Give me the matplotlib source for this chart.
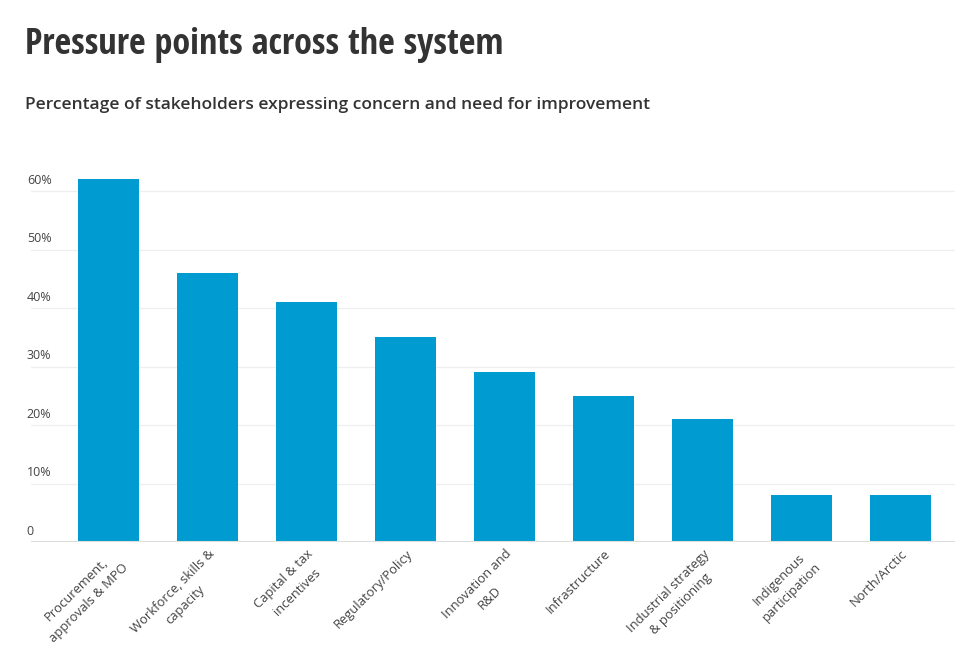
import matplotlib as mpl
import matplotlib.pyplot as plt
from matplotlib import font_manager
from matplotlib.transforms import ScaledTranslation

mpl.use('Agg')

categories = [
    'Procurement,\napprovals & MPO',
    'Workforce, skills &\ncapacity',
    'Capital & tax\nincentives',
    'Regulatory/Policy',
    'Innovation and\nR&D',
    'Infrastructure',
    'Industrial strategy\n& positioning',
    'Indigenous\nparticipation',
    'North/Arctic',
]
values = [62, 46, 41, 35, 29, 25, 21, 8, 8]
y_ticks = [0, 10, 20, 30, 40, 50, 60]
y_labels = ['0', '10%', '20%', '30%', '40%', '50%', '60%']

installed = {f.name for f in font_manager.fontManager.ttflist}
title_font = 'Open Sans'
for name in ['Open Sans Condensed', 'Roboto Condensed', 'Liberation Sans Narrow']:
    if name in installed:
        title_font = name
        break

plt.rcParams['font.family'] = 'Open Sans'

fig = plt.figure(figsize=(9.76, 6.53), dpi=100)
ax = fig.add_axes([0.0318, 0.170, 0.9467, 0.582])

x = list(range(len(values)))
ax.bar(x, values, width=0.616, color='#009cd1', zorder=2)

ax.set_xlim(-0.783, 8.55)
ax.set_ylim(0, 65)

for v in y_ticks[1:]:
    ax.axhline(v, color='#efefef', linewidth=0.9, zorder=0)
ax.axhline(0, color='#dddddd', linewidth=2.2, zorder=3)

for sp in ax.spines.values():
    sp.set_visible(False)

ax.set_yticks([])
offset = ScaledTranslation(-3 / 72, 3 / 72, fig.dpi_scale_trans)
for v, lab in zip(y_ticks, y_labels):
    ax.text(0, v, lab, transform=ax.get_yaxis_transform() + offset,
            ha='left', va='bottom', fontsize=9, color='#444444')

ax.set_xticks(x)
ax.set_xticklabels(categories, rotation=45, ha='right', va='top',
                   rotation_mode='anchor', multialignment='center',
                   linespacing=1.55, fontsize=9.4, color='#444444')
ax.tick_params(axis='x', length=0, pad=4)

fig.text(0.0256, 0.918, 'Pressure points across the system', family=title_font,
         fontsize=26, fontweight='bold', color='#333333', ha='left', va='baseline')
fig.text(0.0256, 0.833, 'Percentage of stakeholders expressing concern and need for improvement',
         fontsize=12.5, fontweight='semibold', color='#333333', ha='left', va='baseline')

fig.savefig('out.png', dpi=100)
plt.close('all')
